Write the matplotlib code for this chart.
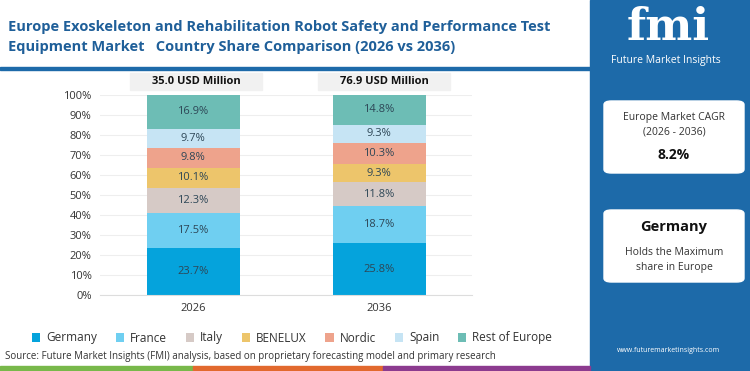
import matplotlib.pyplot as plt
from matplotlib.patches import FancyBboxPatch, Rectangle
import numpy as np

plt.rcParams['font.family'] = ['Open Sans', 'DejaVu Sans']

# Data
years = ["2026", "2036"]
totals = ["35.0 USD Million", "76.9 USD Million"]
countries = ["Germany", "France", "Italy", "BENELUX", "Nordic", "Spain", "Rest of Europe"]
share_2026 = [23.7, 17.5, 12.3, 10.1, 9.8, 9.7, 16.9]
share_2036 = [25.8, 18.7, 11.8, 9.3, 10.3, 9.3, 14.8]
colors = ["#05a3dc", "#6fcff1", "#d6cac6", "#edc56b", "#eea38c", "#c6e4f4", "#6dbdb5"]

cagr = "8.2%"
top_country = "Germany"

fig = plt.figure(figsize=(7.5, 3.71), dpi=100)
W, H = 750, 371

def fx(px):
    return px / W

def fy(py):
    return 1 - py / H

# Right blue panel
fig.patches.append(Rectangle((fx(590), 0), fx(160), 1, transform=fig.transFigure,
                             color="#1d6aa9", zorder=0))
# Title underline
fig.patches.append(Rectangle((0, fy(70)), fx(590), 3 / H, transform=fig.transFigure,
                             color="#1d6aa9", zorder=0))
# Bottom colour strip
for x0, x1, c in [(0, 193, "#78b84a"), (193, 383, "#e2692e"), (383, 590, "#8c3b8f")]:
    fig.patches.append(Rectangle((fx(x0), 0), fx(x1 - x0), 5 / H, transform=fig.transFigure,
                                 color=c, zorder=0))

fig.text(fx(8), fy(37), "Europe Exoskeleton and Rehabilitation Robot Safety and Performance Test\n"
         "Equipment Market   Country Share Comparison (2026 vs 2036)",
         fontsize=10.5, fontweight="bold", color="#1f5f99", va="center", ha="left",
         linespacing=1.55)

# Main axes
ax = fig.add_axes([fx(100), fy(295), fx(372), (295 - 95) / H])
x = np.arange(len(years))
data = np.array([share_2026, share_2036])
bottom = np.zeros(len(years))
for i, name in enumerate(countries):
    vals = data[:, i]
    ax.bar(x, vals, width=0.5, bottom=bottom, color=colors[i], label=name, zorder=2)
    for j in range(len(years)):
        ax.text(x[j], bottom[j] + vals[j] / 2, f"{vals[j]:.1f}%", ha="center", va="center",
                fontsize=8, color="#2d4656", zorder=3)
    bottom += vals

ax.set_xlim(-0.5, 1.5)
ax.set_ylim(0, 100)
ax.set_yticks(np.arange(0, 101, 10))
ax.set_yticklabels([f"{v}%" for v in range(0, 101, 10)], fontsize=8, color="#333333")
ax.set_xticks(x)
ax.set_xticklabels(years, fontsize=8, color="#333333")
ax.tick_params(length=0, pad=6)
ax.yaxis.grid(True, color="#eeeeee", linewidth=0.8, zorder=0)
for s in ["top", "right", "left"]:
    ax.spines[s].set_visible(False)
ax.spines["bottom"].set_color("#dddddd")

# Header boxes with totals
for xc, label in zip([196, 384], totals):
    fig.patches.append(FancyBboxPatch((fx(xc - 66), fy(90)), fx(132), 17 / H,
                                      boxstyle="square,pad=0", transform=fig.transFigure,
                                      color="#f1f1f1", zorder=1))
    fig.text(fx(xc), fy(82), label, ha="center", va="center", fontsize=8,
             fontweight="bold", color="#111111")

# Legend
handles, labels = ax.get_legend_handles_labels()
fig.legend(handles, labels, loc="center", bbox_to_anchor=(fx(292), fy(338)), ncol=7,
           frameon=False, fontsize=8.5, handlelength=0.7, handleheight=0.7,
           columnspacing=1.6, handletextpad=0.5, labelcolor="#333333")

fig.text(fx(5), fy(357), "Source: Future Market Insights (FMI) analysis, based on proprietary "
         "forecasting model and primary research", fontsize=7, color="#333333",
         va="center", ha="left")

# Right panel content
fig.text(fx(668), fy(28), "fmi", ha="center", va="center", fontsize=32,
         fontweight="bold", color="white", family="DejaVu Serif")
fig.text(fx(666), fy(61), "Future Market Insights", ha="center", va="center",
         fontsize=7.5, color="white")

for y0, y1 in [(101, 173), (210, 282)]:
    fig.patches.append(FancyBboxPatch((fx(604), fy(y1)), fx(140), (y1 - y0) / H,
                                      boxstyle="round,pad=0,rounding_size=0.01",
                                      transform=fig.transFigure, color="white", zorder=1))

fig.text(fx(674), fy(125), "Europe Market CAGR\n(2026 - 2036)", ha="center", va="center",
         fontsize=7.5, color="#333333", linespacing=1.5)
fig.text(fx(674), fy(155), cagr, ha="center", va="center", fontsize=10,
         fontweight="bold", color="#111111")
fig.text(fx(674), fy(227), top_country, ha="center", va="center", fontsize=10.5,
         fontweight="bold", color="#111111")
fig.text(fx(674), fy(260), "Holds the Maximum\nshare in Europe", ha="center", va="center",
         fontsize=7.5, color="#333333", linespacing=1.6)
fig.text(fx(668), fy(351), "www.futuremarketinsights.com", ha="center", va="center",
         fontsize=5, color="white")

fig.savefig("out.png", dpi=100)
